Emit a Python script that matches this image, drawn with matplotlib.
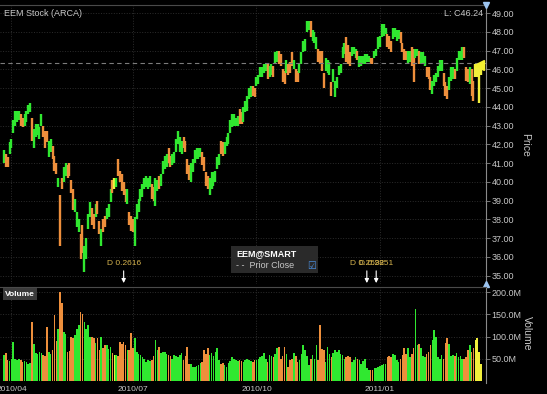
import numpy as np
import pandas as pd
import matplotlib
matplotlib.use("Agg")
import matplotlib.pyplot as plt
import matplotlib.transforms as mtransforms
from matplotlib.patches import Rectangle

# daily high / low of EEM, one value per trading day starting 2010-03-26
hi = [41.7, 41.5, 41.3, 42.1, 42.3, 43.3, 43.8, 43.8, 43.8, 43.6,
      43.4, 43.6, 43.8, 44.1, 44.2, 43.4, 42.8, 43.1, 43.1, 42.9,
      43.6, 43.0, 42.7, 42.7, 42.2, 42.3, 41.9, 41.4, 41.0, 40.2,
      39.3, 40.2, 40.8, 41.0, 40.9, 41.0, 40.1, 39.6, 39.1, 38.4,
      38.0, 37.2, 37.7, 36.6, 37.0, 38.3, 38.9, 38.6, 38.3, 38.8,
      39.0, 37.9, 37.5, 38.0, 38.2, 38.6, 38.8, 39.6, 40.1, 40.2,
      40.2, 41.2, 40.6, 40.4, 40.0, 39.6, 39.6, 38.4, 38.2, 38.0,
      38.1, 38.8, 39.1, 39.6, 39.9, 40.2, 40.3, 40.2, 40.3, 39.9,
      39.7, 40.2, 40.1, 40.3, 40.4, 41.1, 41.4, 41.5, 41.8, 41.4,
      41.5, 41.6, 42.3, 42.7, 42.4, 42.2, 42.4, 42.2, 41.2, 40.9,
      41.0, 41.2, 41.7, 41.8, 41.8, 41.8, 41.6, 41.3, 40.5, 40.3,
      40.2, 40.5, 40.5, 40.6, 41.3, 41.5, 42.2, 42.1, 42.1, 42.4,
      42.6, 43.3, 43.6, 43.6, 43.4, 43.5, 43.9, 43.7, 44.0, 44.3,
      44.6, 45.0, 45.1, 45.1, 45.0, 45.6, 45.7, 46.1, 46.1, 46.3,
      46.3, 46.3, 46.2, 46.3, 46.2, 46.9, 47.0, 47.0, 46.8, 46.0,
      45.9, 46.5, 46.3, 46.4, 46.9, 46.5, 46.0, 45.9, 46.3, 46.9,
      47.5, 47.6, 48.6, 48.6, 48.6, 48.1, 48.0, 47.7, 47.1, 47.0,
      47.0, 45.8, 46.6, 46.5, 46.4, 45.3, 46.0, 45.4, 45.6, 46.2,
      46.3, 47.2, 47.4, 47.7, 47.3, 46.9, 47.2, 47.2, 47.1, 47.0,
      46.7, 46.7, 46.7, 46.8, 46.8, 46.7, 46.6, 46.6, 47.0, 47.1,
      47.7, 47.8, 48.4, 48.4, 48.2, 47.9, 47.8, 47.5, 48.2, 48.2,
      48.1, 48.1, 48.0, 47.4, 47.1, 47.0, 47.0, 47.0, 47.2, 47.1,
      47.1, 47.1, 47.0, 46.9, 46.9, 46.7, 46.1, 46.1, 45.6, 45.4,
      45.7, 45.8, 46.2, 46.5, 46.5, 45.8, 45.3, 45.1, 45.6, 46.1,
      46.1, 46.0, 46.6, 47.0, 47.0, 47.2, 47.2, 46.1, 46.0, 46.1,
      46.0, 45.4, 46.3, 46.3, 46.1, 46.3]
lo = [41.0, 40.8, 40.8, 41.5, 41.8, 42.6, 43.0, 43.2, 43.3, 43.0,
      42.9, 43.0, 43.2, 43.6, 43.7, 42.2, 41.8, 42.4, 42.5, 42.3,
      43.0, 42.4, 41.8, 42.1, 41.3, 41.6, 41.2, 40.6, 40.4, 39.7,
      36.6, 39.6, 40.0, 40.3, 40.2, 40.3, 39.4, 38.5, 38.4, 37.6,
      37.3, 35.9, 36.2, 35.2, 35.9, 37.5, 38.1, 37.7, 37.5, 38.1,
      38.3, 37.2, 36.6, 37.3, 37.6, 38.0, 38.1, 38.9, 39.4, 39.6,
      39.7, 40.3, 40.0, 39.5, 39.3, 38.9, 38.8, 37.7, 37.4, 37.3,
      36.6, 38.0, 38.4, 39.0, 39.2, 39.6, 39.7, 39.6, 39.7, 39.1,
      39.0, 38.7, 39.5, 39.6, 39.8, 40.4, 40.7, 40.8, 41.0, 40.8,
      40.9, 41.0, 41.6, 42.0, 41.6, 41.5, 41.8, 41.6, 40.4, 40.1,
      40.0, 40.5, 41.0, 41.2, 41.2, 41.3, 40.9, 40.6, 39.8, 39.6,
      39.3, 39.6, 39.8, 40.0, 40.7, 40.9, 41.5, 41.4, 41.5, 41.9,
      42.0, 42.6, 42.9, 43.0, 43.0, 43.0, 43.1, 43.1, 43.2, 43.7,
      43.8, 44.4, 44.5, 44.6, 44.5, 45.1, 45.2, 45.6, 45.6, 45.8,
      45.9, 45.5, 45.6, 45.7, 45.6, 46.3, 46.4, 46.3, 46.2, 45.3,
      45.2, 45.8, 45.7, 45.8, 46.2, 46.0, 45.3, 45.3, 45.8, 46.3,
      46.9, 47.0, 48.0, 48.1, 47.7, 47.5, 47.4, 47.1, 46.4, 46.3,
      45.9, 45.0, 45.9, 45.8, 45.7, 44.6, 45.3, 44.5, 45.0, 45.7,
      45.8, 46.6, 46.8, 46.4, 46.3, 46.2, 46.7, 46.8, 46.6, 46.5,
      46.1, 46.2, 46.3, 46.3, 46.4, 46.4, 46.3, 46.3, 46.6, 46.7,
      47.1, 47.2, 47.7, 47.8, 47.9, 47.2, 47.1, 46.9, 47.6, 47.7,
      47.5, 47.6, 47.4, 46.9, 46.5, 46.5, 46.3, 46.4, 46.2, 45.3,
      46.6, 46.7, 46.3, 46.3, 46.3, 46.2, 45.6, 45.5, 44.9, 44.7,
      45.1, 45.3, 45.6, 45.9, 45.9, 45.1, 44.6, 44.4, 44.9, 45.4,
      45.5, 45.5, 45.9, 46.5, 46.5, 46.5, 46.6, 45.4, 45.3, 45.2,
      44.6, 44.3, 45.6, 45.6, 44.2, 45.7]
# daily volume, millions of shares
vol = [58, 62, 47, 45, 50, 88, 50, 48, 50, 47,
       43, 44, 42, 39, 40, 133, 84, 62, 60, 65,
       62, 58, 55, 122, 65, 60, 69, 148, 90, 118,
       200, 175, 110, 105, 65, 68, 100, 96, 103, 118,
       125, 156, 152, 133, 118, 126, 100, 100, 96, 85,
       96, 70, 100, 75, 80, 80, 72, 77, 62, 58,
       58, 55, 88, 84, 88, 80, 70, 69, 107, 73,
       96, 65, 60, 58, 54, 50, 43, 47, 45, 48,
       55, 92, 69, 77, 62, 65, 66, 60, 58, 55,
       50, 58, 55, 54, 58, 62, 47, 55, 77, 39,
       38, 32, 32, 33, 35, 40, 43, 69, 60, 73,
       58, 62, 55, 65, 73, 48, 39, 40, 35, 32,
       40, 45, 54, 50, 47, 45, 47, 45, 43, 46,
       50, 47, 45, 43, 46, 47, 50, 54, 55, 62,
       50, 43, 58, 55, 54, 60, 73, 77, 50, 55,
       77, 60, 32, 47, 50, 62, 55, 43, 47, 60,
       80, 69, 55, 35, 50, 58, 50, 80, 47, 126,
       72, 69, 43, 77, 60, 54, 62, 69, 65, 69,
       60, 58, 50, 54, 55, 54, 43, 48, 54, 50,
       47, 39, 45, 50, 30, 24, 25, 24, 28, 30,
       32, 33, 35, 37, 39, 54, 55, 54, 60, 58,
       47, 43, 50, 58, 73, 60, 73, 54, 60, 73,
       163, 80, 84, 73, 55, 54, 60, 65, 80, 92,
       114, 100, 54, 50, 58, 50, 85, 96, 84, 55,
       58, 55, 62, 54, 55, 50, 50, 54, 70, 80,
       65, 75, 92, 96, 65, 39]
# g = up day, o = down day, y = today's bars
dirs = "".join([
    "googgggggo", "oggggogggg", "goooggooog", "ooggoooogg", "googgggoog",
    "oogoogggoy", "gooooogooo", "gggggggggo", "oggoggggoo", "ggggggoooo",
    "ggggggoooo", "ggggggoogg", "ggggggoogg", "gggooggggg", "goggoggooo",
    "ogooogoogg", "ggggogggoo", "oogggogggg", "gggooogggo", "ggggggoogg",
    "gggggooogg", "ggooooggoo", "ggogggooog", "gggggooogg", "goggggooog",
    "ooyyyy"])

start_day = "2010-03-26"
prior_close = 46.33
last_price = 46.24
div_dates = ["2010-06-24", "2010-12-23", "2010-12-30"]
div_amts = ["0.2616", "0.2592", "0.2851"]
quarters = ["2010-04-01", "2010-07-01", "2010-10-01", "2011-01-03"]
quarter_labels = ["2010/04", "2010/07", "2010/10", "2011/01"]
price_ticks = list(range(35, 50))
vol_ticks = [50, 100, 150, 200]

days = pd.bdate_range(start_day, periods=len(hi))
x = np.arange(len(hi))
qpos = days.searchsorted(pd.to_datetime(quarters))
dpos = days.searchsorted(pd.to_datetime(div_dates))

palette = {"g": "#30e830", "o": "#ee8f3c", "y": "#f2f03c"}
cols = [palette[c] for c in dirs]
txt = "#c8c8c8"
grid_c = "#2c2c2c"
plt.rcParams["font.family"] = ["Liberation Sans", "DejaVu Sans"]

W, H = 547, 394
fig = plt.figure(figsize=(W / 100, H / 100), dpi=100, facecolor="black")
axp = fig.add_axes([0, 1 - 284 / H, 486 / W, 279 / H], facecolor="black")
axv = fig.add_axes([0, 1 - 383 / H, 486 / W, 96 / H], facecolor="black", sharex=axp)

for ax in (axp, axv):
    for s in ("left", "bottom"):
        ax.spines[s].set_visible(False)
    ax.spines["right"].set_color("#8a8a8a")
    ax.spines["top"].set_color("#4a4a4a")
    ax.yaxis.tick_right()
    ax.tick_params(axis="y", colors="#8a8a8a", labelcolor=txt, labelsize=6.5,
                   length=3, width=0.6, pad=1)
    ax.tick_params(axis="x", length=0, labelcolor=txt, labelsize=6, pad=2)
    ax.set_axisbelow(True)
    ax.grid(True, color=grid_c, ls=":", lw=0.7)

# price bars
axp.vlines(x, lo, hi, colors=cols, lw=1.7)
axp.set_xlim(-2.1, 257.7)
axp.set_ylim(34.55, 49.43)
axp.set_yticks(price_ticks)
axp.set_yticklabels([f"{v:.2f}" for v in price_ticks])
axp.set_xticks(qpos)
axp.tick_params(axis="x", labelbottom=False)
axp.axhline(prior_close, color="#7c7c7c", ls=(0, (4, 3)), lw=0.8)

# dividends
for p, a in zip(dpos, div_amts):
    axp.text(p, 35.45, f"D {a}", color="#d6b44e", fontsize=6, ha="center", va="bottom")
    axp.annotate("", xy=(p, 34.6), xytext=(p, 35.25),
                 arrowprops=dict(arrowstyle="-|>", color="white", lw=0.8,
                                 mutation_scale=6, shrinkA=0, shrinkB=0))

# last price marker and axis ends
tr = mtransforms.blended_transform_factory(axp.transAxes, axp.transData)
axp.plot(0.985, last_price, transform=tr, marker="<", ms=7, color="#f4f030",
         clip_on=False, zorder=5)
axp.plot(1.0, 1.0, transform=axp.transAxes, marker="v", ms=5, color="#9cc4f0",
         clip_on=False, zorder=5)
axp.plot(1.0, 0.0, transform=axp.transAxes, marker="^", ms=5, color="#9cc4f0",
         clip_on=False, zorder=5)

# volume
axv.bar(x, vol, width=0.85, color=cols)
axv.set_ylim(-5, 212)
axv.set_yticks(vol_ticks)
axv.set_yticklabels([f"{v:.1f}M" for v in vol_ticks])
axv.set_xticks(qpos)
axv.set_xticklabels(quarter_labels)

# texts
fig.text(4 / W, 1 - 13 / H, "EEM Stock (ARCA)", color=txt, fontsize=6.5, va="center")
fig.text(483 / W, 1 - 13 / H, "L: C46.24", color=txt, fontsize=6.5, va="center", ha="right")
fig.text(525 / W, 1 - 145 / H, "Price", color=txt, fontsize=7.5, rotation=270,
         ha="center", va="center")
fig.text(527 / W, 1 - 333 / H, "Volume", color=txt, fontsize=7.5, rotation=270,
         ha="center", va="center")
fig.text(5 / W, 1 - 294 / H, "Volume", color="white", fontsize=6, weight="bold",
         va="center", bbox=dict(facecolor="#3a3a3a", edgecolor="none", pad=1.5))

# series legend box
fig.patches.append(Rectangle((231 / W, 1 - 273 / H), 87 / W, 27 / H,
                             transform=fig.transFigure, facecolor="#2a2a2a",
                             edgecolor="none", zorder=6))
fig.text(236 / W, 1 - 254 / H, "EEM@SMART", color="white", fontsize=6.5,
         weight="bold", va="center", zorder=7)
fig.text(236 / W, 1 - 266 / H, "- -  Prior Close", color=txt, fontsize=6.5,
         va="center", zorder=7)
fig.text(307 / W, 1 - 266 / H, "\u2611", color="#4a8fe0", fontsize=7,
         va="center", family="DejaVu Sans", zorder=7)

fig.savefig("out.png", dpi=100, facecolor="black")
